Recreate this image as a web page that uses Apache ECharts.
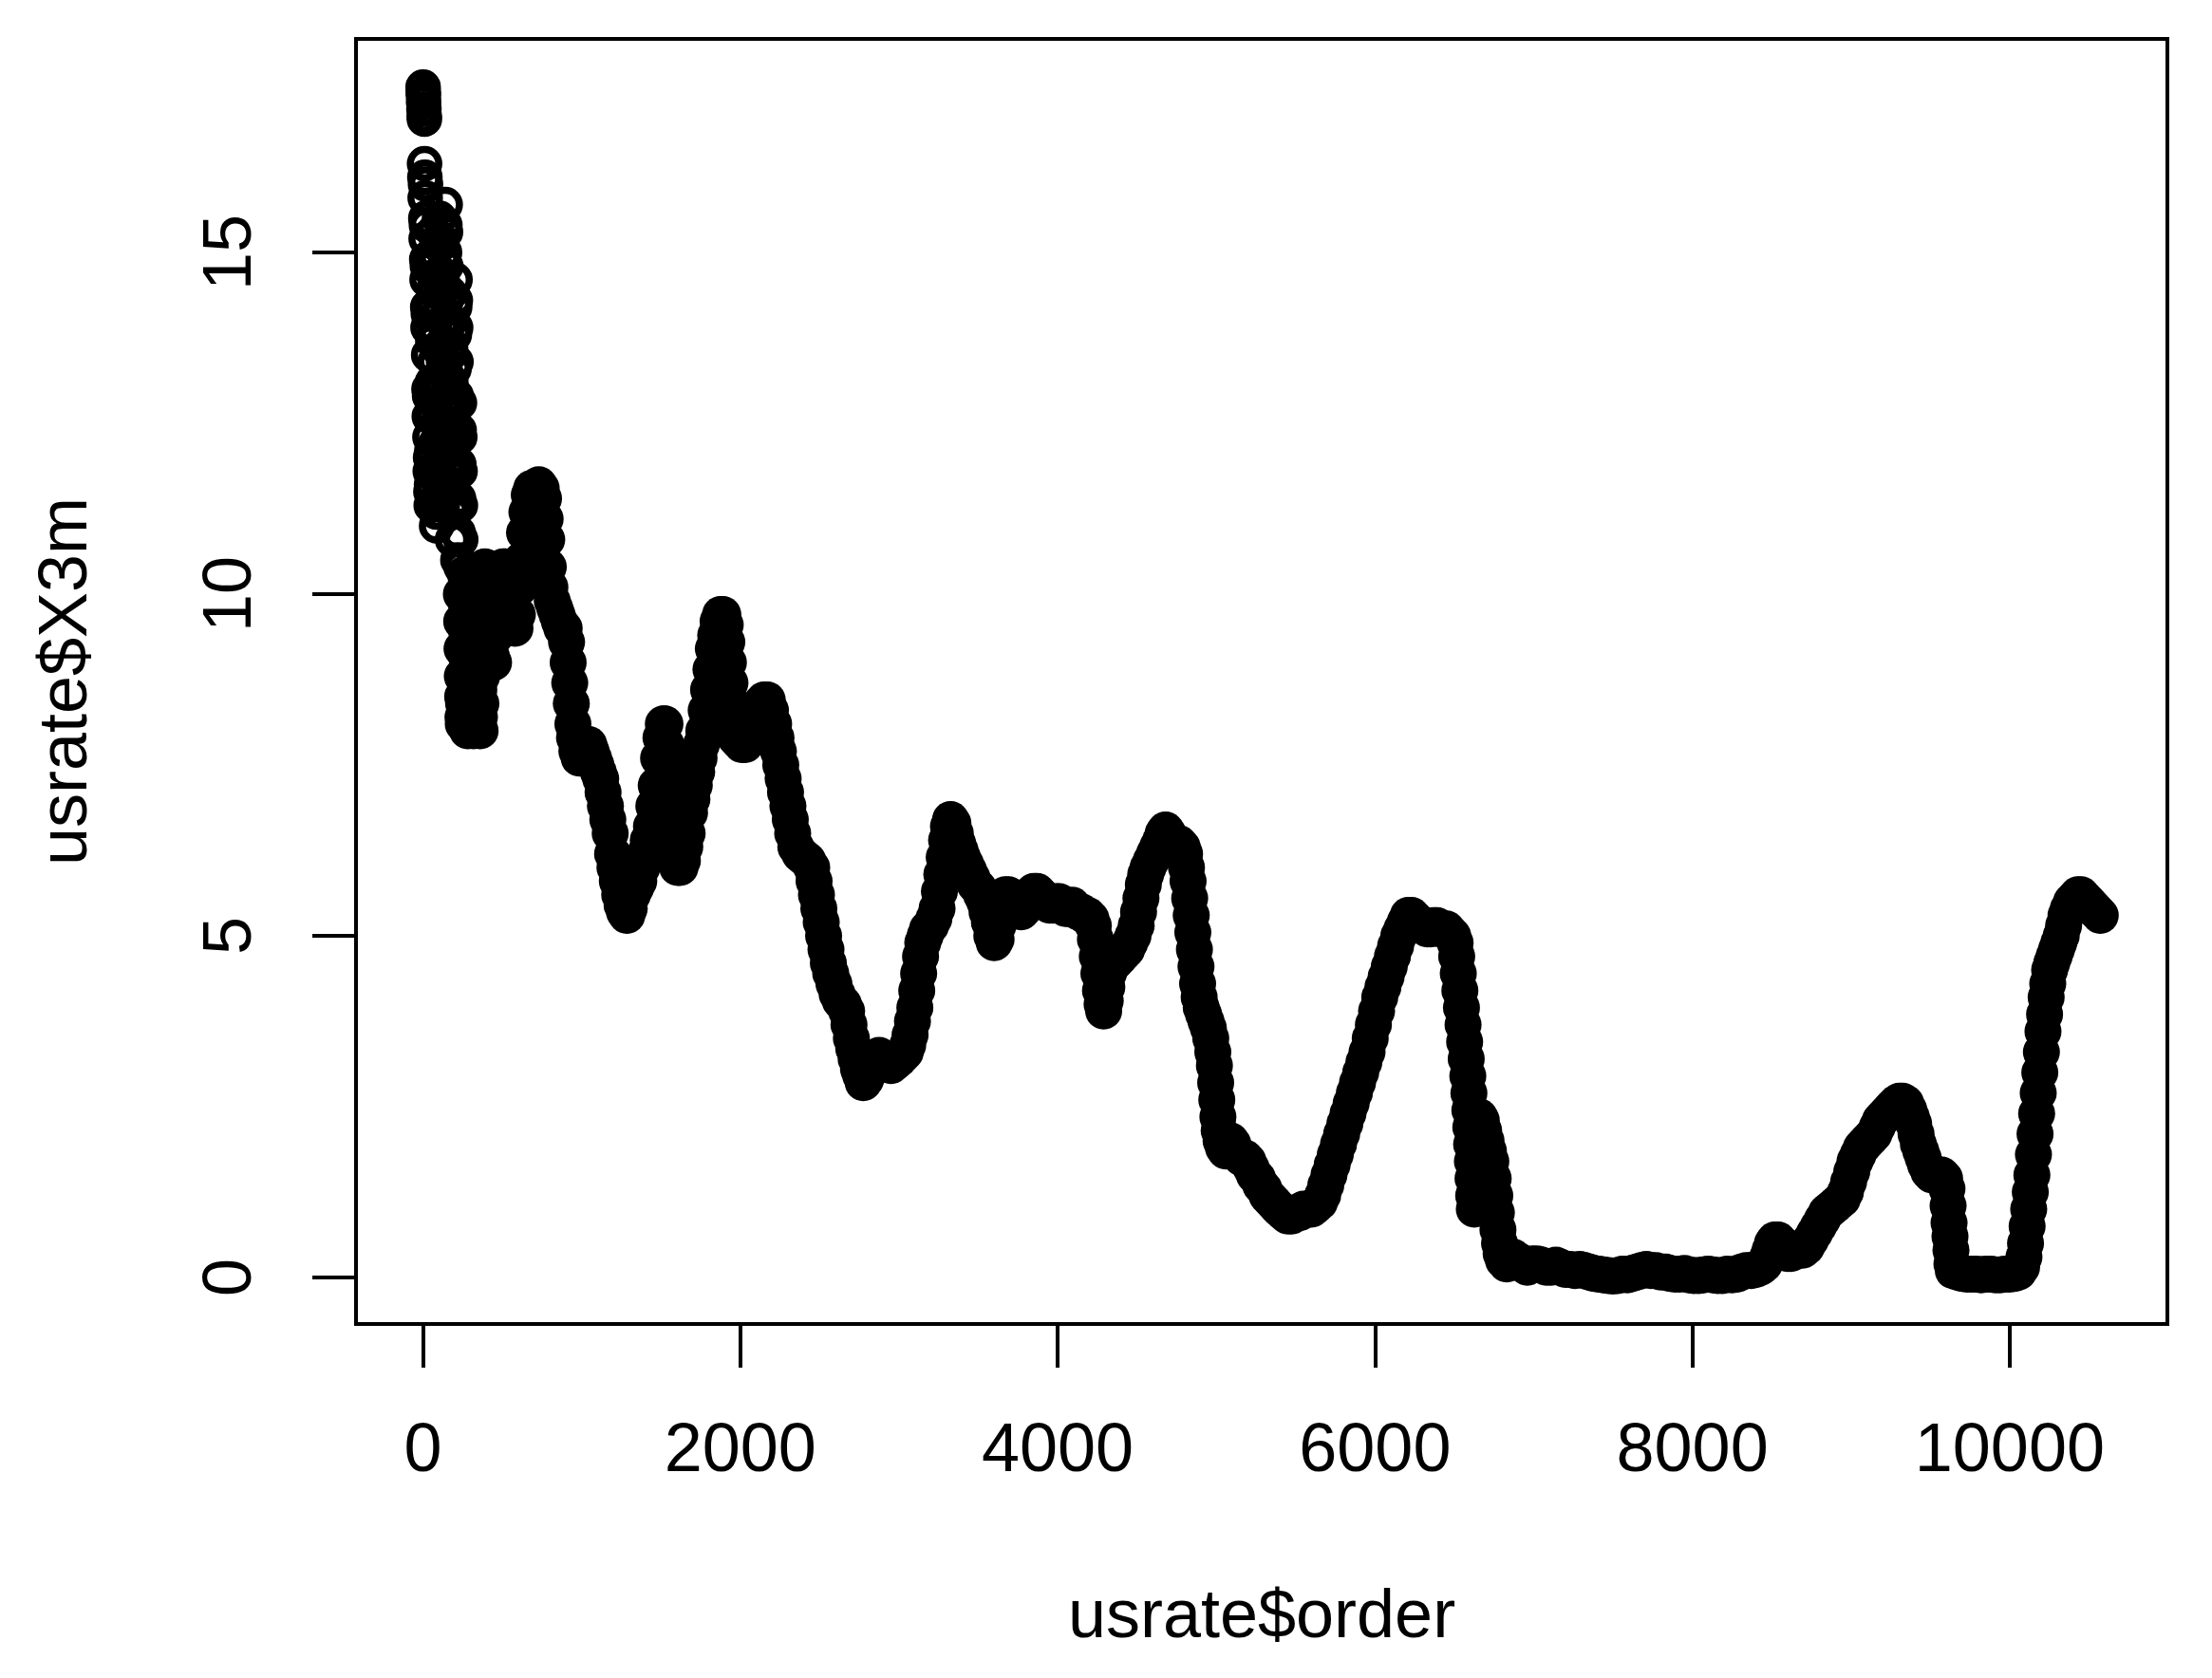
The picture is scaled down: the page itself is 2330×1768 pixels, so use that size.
<!DOCTYPE html>
<html>
<head>
<meta charset="utf-8">
<script src="https://cdn.jsdelivr.net/npm/echarts@6/dist/echarts.min.js"></script>
<style>
html,body{margin:0;padding:0;background:#ffffff;}
#chart{width:2330px;height:1768px;}
</style>
</head>
<body>
<div id="chart"></div>
<script>
// x values (usrate$order)
const order = [
1,2,3,4,6,8,9,10,12,14,
16,18,20,22,24,26,28,30,32,34,
36,38,40,42,44,46,48,50,52,54,
56,58,60,62,64,66,68,70,72,74,
76,78,80,82,84,86,88,90,92,94,
96,98,100,102,104,106,108,110,112,114,
116,118,120,122,124,126,128,130,132,134,
136,138,140,142,144,146,148,150,152,154,
156,158,160,162,164,166,168,170,172,174,
176,178,180,182,184,186,188,190,192,194,
196,198,200,202,204,206,208,210,212,214,
216,218,220,222,224,226,228,230,232,234,
236,238,240,242,244,246,248,250,252,254,
256,258,260,262,264,266,268,270,273,276,
279,282,285,288,291,294,297,300,303,306,
309,312,315,318,321,324,327,330,333,336,
340,344,348,352,356,360,365,370,375,380,
385,390,395,
400,415,430,445,460,475,490,505,520,535,
550,565,580,595,610,625,640,655,670,685,
700,715,730,745,760,770,780,790,800,815,
830,845,860,875,890,905,915,925,935,945,
955,970,985,1000,1015,1030,1045,1060,1075,1090,
1105,1120,1135,1150,1165,1180,1195,1210,1225,1240,
1255,1270,1285,
1300,1320,1340,1360,1380,1400,1420,1440,1455,1470,
1485,1500,1515,1525,1532,1538,1544,1550,1560,1575,
1590,1605,1620,1635,1650,1665,1680,1695,1710,1725,
1740,1755,1770,1785,1800,1815,1830,1845,1860,1875,
1890,1905,1915,1925,1935,1945,1955,1970,1990,2010,
2030,2050,2070,2090,2110,2130,2150,2170,2190,2210,
2225,2240,2255,2270,2285,2300,2315,2330,2350,2375,
2400,2425,2450,2465,2480,2495,2510,2525,2540,2555,
2570,2590,2610,2630,2650,2670,2685,2700,2715,2730,
2745,2760,2775,2790,2810,2830,2850,2875,2900,2925,
2950,2975,3000,3020,3040,3055,3070,3085,3100,3112,
3124,3136,3150,3165,3180,3200,3220,3240,3255,3270,
3285,3300,3312,3325,3340,
3355,3370,3385,3400,3420,3440,3460,3480,3500,3520,
3540,3555,3570,3585,3600,3612,3624,3636,3650,3670,
3690,3710,3730,3750,3770,3790,3810,3830,3850,3870,
3890,3910,3930,3950,3970,3990,4010,4030,4050,4070,
4090,4110,4130,4150,4170,4190,4210,4225,4238,4250,
4260,4270,4280,4290,4300,4310,4320,
4335,4355,4375,4395,4415,4435,4455,4475,4495,4510,
4525,4540,4555,4570,4590,4610,4630,4650,4665,4680,
4695,4710,4725,4745,4765,4785,4800,4812,4822,4832,
4842,4852,4862,4872,4882,4892,4905,4920,4935,4950,
4965,4978,4988,4996,5003,5010,5018,5030,
5045,5060,5075,5090,5105,5120,5140,5160,5180,5200,
5220,5240,5260,5280,5300,5320,5340,5360,5380,5400,
5425,5450,5475,5500,5525,5550,5575,5600,5625,5650,
5670,5690,5710,5730,5750,5770,5790,5810,5830,5850,
5870,5890,5910,5930,5950,5970,5990,6010,6030,6050,
6070,6090,6110,6130,6150,6170,6190,6210,
6230,6250,6270,6290,6310,6330,6350,6370,6390,6410,
6430,6450,6470,6490,6505,6515,6525,6535,6545,6555,
6565,6575,6585,6592,6598,6604,6609,6614,6618,6622,
6626,6632,6638,6644,6650,6658,6670,6685,6700,6715,
6730,6745,6755,6765,6775,6785,6795,6810,6830,6850,
6870,6900,6930,6960,6990,7020,7050,7080,7110,7140,
7170,7200,7230,7260,7290,7320,7350,7380,7410,7440,
7470,7500,7530,7560,7590,7620,7650,7680,7710,7740,
7770,7800,7830,7860,7890,7920,7950,7980,8010,8040,
8070,8100,8130,8160,8190,8220,8250,8280,8310,8340,
8370,8400,8430,8455,8475,
8490,8505,8520,8540,8560,8580,8600,8620,8645,8670,
8695,8720,8745,8770,8795,8820,8845,8870,8895,8920,
8945,8965,8985,9005,9025,9045,9065,9085,9105,9125,
9145,9165,9185,9205,9225,9245,9265,9285,9305,9325,
9345,9365,9380,9395,9410,9425,9440,9455,9470,9490,
9510,9530,9550,9570,9590,9605,9612,9618,9624,9630,
9636,9645,
9670,9700,9730,9760,9790,9820,9850,9880,9910,9940,
9970,10000,10030,10055,10075,10090,10100,10110,10120,10130,
10140,10150,10160,10170,10180,10190,10200,10210,10220,10230,
10240,10252,10265,10280,10295,10310,10325,10340,10355,10370,
10390,10410,10430,10450,10470,10490,10510,10530,10550,10571
];

// y values (usrate$X3m), same layout as order
const x3m = [
17.42,17.35,17.3,17.2,17.1,17.0,16.95,16.3,16.1,15.8,
16.0,15.5,15.2,15.4,14.9,14.6,14.8,14.2,13.9,14.1,
13.5,13.0,12.6,12.9,12.3,11.8,12.0,11.5,11.3,11.6,
12.1,12.6,13.1,13.7,14.2,14.8,15.3,15.0,14.5,13.9,
13.4,12.8,12.2,11.7,11.2,11.0,11.4,11.9,12.5,13.0,
13.6,14.1,14.6,15.1,15.5,15.2,14.7,14.2,13.6,13.1,
12.5,12.0,11.6,11.3,11.7,12.2,12.8,13.4,14.0,14.5,
15.0,15.4,15.7,15.3,14.8,14.3,13.8,13.2,12.7,12.2,
11.8,11.5,11.9,12.4,12.9,13.5,14.0,14.4,14.0,13.6,
13.1,12.6,12.1,11.6,11.2,10.8,11.3,11.8,12.3,12.8,
13.3,13.8,14.2,14.6,14.3,13.9,13.4,12.9,12.4,11.9,
11.4,10.9,10.5,10.9,11.4,11.9,12.4,12.8,12.3,11.8,
11.3,10.8,10.4,10.0,9.6,9.2,8.8,8.5,8.2,8.1,
8.4,8.8,9.2,9.6,10.0,10.3,9.9,9.5,9.1,8.7,
8.3,8.0,8.3,8.7,9.1,9.5,9.9,10.2,9.8,9.3,
8.9,8.5,8.1,8.0,8.4,8.8,9.2,9.6,10.0,10.3,
9.9,9.4,9.0,8.6,8.2,8.0,8.4,8.8,9.3,9.7,
10.1,10.4,10.2,
9.8,9.4,9.1,9.0,9.4,9.8,10.2,10.4,10.4,10.3,
10.0,9.6,9.5,9.7,10.1,10.5,10.9,11.2,11.45,11.55,
11.5,11.55,11.6,11.55,11.4,11.1,10.8,10.4,10.1,9.9,
9.8,9.7,9.6,9.5,9.5,9.3,9.0,8.7,8.4,8.1,
7.9,7.7,7.6,7.6,7.7,7.8,7.8,7.7,7.6,7.5,
7.4,7.3,7.1,6.9,6.7,6.5,6.2,6.0,5.8,5.6,
5.45,5.35,5.3,
5.4,5.6,5.7,5.8,6.0,6.2,6.4,6.6,6.9,7.2,
7.6,7.9,8.1,8.1,7.8,7.5,7.2,6.9,6.6,6.3,
6.1,6.0,6.0,6.1,6.3,6.5,6.8,7.0,7.2,7.4,
7.6,7.8,8.0,8.3,8.6,8.9,9.2,9.4,9.6,9.7,
9.7,9.55,9.3,9.0,8.7,8.4,8.1,7.9,7.85,7.8,
7.8,7.85,7.95,8.1,8.25,8.4,8.45,8.45,8.3,8.1,
7.9,7.7,7.5,7.3,7.1,6.9,6.7,6.5,6.3,6.2,
6.15,6.1,6.0,5.8,5.6,5.4,5.2,5.0,4.8,4.6,
4.45,4.3,4.15,4.05,4.0,3.9,3.7,3.5,3.35,3.2,
3.05,2.95,2.85,2.9,3.0,3.1,3.2,3.25,3.2,3.15,
3.1,3.15,3.2,3.25,3.3,3.4,3.55,3.75,3.95,4.2,
4.45,4.7,4.9,5.0,5.1,5.15,5.25,5.4,5.65,5.9,
6.15,6.4,6.6,6.7,6.65,
6.5,6.35,6.25,6.15,6.05,5.95,5.85,5.75,5.7,5.6,
5.5,5.35,5.2,5.0,4.9,4.95,5.15,5.35,5.5,5.6,
5.6,5.55,5.5,5.4,5.35,5.4,5.5,5.6,5.65,5.65,
5.6,5.55,5.5,5.45,5.45,5.5,5.5,5.45,5.4,5.4,
5.45,5.4,5.35,5.35,5.3,5.3,5.25,5.15,4.95,4.7,
4.45,4.2,4.0,3.9,4.05,4.25,4.45,
4.55,4.6,4.65,4.7,4.75,4.8,4.9,5.0,5.15,5.35,
5.55,5.75,5.9,6.0,6.1,6.2,6.3,6.4,6.5,6.55,
6.5,6.4,6.35,6.35,6.35,6.3,6.2,6.0,5.8,5.55,
5.3,5.05,4.8,4.55,4.3,4.1,3.95,3.85,3.75,3.65,
3.5,3.3,3.1,2.85,2.6,2.35,2.15,2.0,
1.9,1.85,1.95,2.0,1.95,1.85,1.8,1.75,1.75,1.7,
1.6,1.5,1.45,1.35,1.3,1.2,1.15,1.1,1.05,1.0,
0.95,0.9,0.9,0.95,0.95,1.0,1.0,1.0,1.05,1.1,
1.2,1.35,1.5,1.65,1.8,1.95,2.1,2.25,2.4,2.55,
2.7,2.85,3.0,3.15,3.3,3.5,3.7,3.9,4.1,4.25,
4.4,4.55,4.7,4.85,5.0,5.1,5.2,5.3,
5.3,5.25,5.2,5.15,5.15,5.1,5.1,5.15,5.15,5.1,
5.1,5.1,5.05,5.0,4.9,4.7,4.45,4.2,3.95,3.7,
3.45,3.2,2.95,2.7,2.45,2.2,1.95,1.7,1.45,1.2,
1.0,1.25,1.55,1.85,2.1,2.35,2.3,2.15,2.0,1.85,
1.7,1.45,1.2,0.95,0.7,0.5,0.35,0.25,0.2,0.3,
0.3,0.25,0.2,0.15,0.2,0.2,0.18,0.15,0.15,0.18,
0.15,0.12,0.12,0.1,0.12,0.1,0.08,0.06,0.05,0.04,
0.03,0.02,0.03,0.05,0.04,0.06,0.08,0.1,0.12,0.1,
0.1,0.08,0.08,0.06,0.05,0.05,0.06,0.04,0.03,0.03,
0.04,0.05,0.04,0.03,0.03,0.05,0.04,0.05,0.08,0.1,
0.1,0.12,0.15,0.2,0.3,
0.4,0.5,0.55,0.55,0.5,0.4,0.35,0.35,0.4,0.4,
0.4,0.45,0.55,0.65,0.75,0.85,0.95,1.0,1.05,1.1,
1.15,1.25,1.4,1.55,1.7,1.8,1.9,1.95,2.0,2.05,
2.1,2.2,2.3,2.35,2.4,2.45,2.5,2.55,2.58,2.58,
2.55,2.45,2.35,2.25,2.1,1.95,1.85,1.75,1.65,1.55,
1.5,1.5,1.5,1.5,1.45,1.3,1.05,0.8,0.6,0.4,
0.2,0.1,
0.08,0.06,0.05,0.05,0.05,0.04,0.05,0.05,0.04,0.04,
0.05,0.05,0.06,0.08,0.15,0.3,0.5,0.75,1.0,1.25,
1.5,1.8,2.1,2.4,2.7,3.0,3.3,3.6,3.85,4.1,
4.3,4.5,4.6,4.7,4.8,4.9,5.0,5.15,5.3,5.4,
5.5,5.55,5.6,5.6,5.55,5.5,5.45,5.4,5.35,5.3
];

const xTicks = [0, 2000, 4000, 6000, 8000, 10000];
const yTicks = [0, 5, 10, 15];
const xTitle = 'usrate$order';
const yTitle = 'usrate$X3m';

const points = order.map(function (o, i) { return [o, x3m[i]]; });
// the sparse, fast-moving start shows individual open rings
const RING_LIMIT = 240;
const ringPoints = points.filter(function (p) { return p[0] <= RING_LIMIT; });
const densePoints = points.filter(function (p) { return p[0] > RING_LIMIT; });

const FONT = 'Liberation Sans, Arial, Helvetica, sans-serif';
const plain = function (v) { return String(v); };
const chart = echarts.init(document.getElementById('chart'), null, { renderer: 'canvas' });
chart.setOption({
  animation: false,
  backgroundColor: '#ffffff',
  grid: {
    left: 375, right: 47, top: 41, bottom: 373,
    show: true, borderColor: '#000000', borderWidth: 4, backgroundColor: 'transparent'
  },
  xAxis: {
    type: 'value', min: -422, max: 10994,
    axisLine: { show: false, onZero: false },
    splitLine: { show: false },
    axisTick: { show: true, customValues: xTicks, length: 46, lineStyle: { color: '#000000', width: 4 } },
    axisLabel: { customValues: xTicks, formatter: plain, margin: 99, fontSize: 72, fontFamily: FONT, color: '#000000' },
    name: xTitle, nameLocation: 'middle', nameGap: 274,
    nameTextStyle: { fontSize: 72, fontFamily: FONT, color: '#000000' }
  },
  yAxis: {
    type: 'value', min: -0.68, max: 18.125,
    axisLine: { show: false, onZero: false },
    splitLine: { show: false },
    axisTick: { show: true, customValues: yTicks, length: 46, lineStyle: { color: '#000000', width: 4 } },
    axisLabel: { customValues: yTicks, formatter: plain, rotate: 90, margin: 95, fontSize: 72, fontFamily: FONT, color: '#000000' },
    name: yTitle, nameLocation: 'middle', nameGap: 268, nameRotate: 90,
    nameTextStyle: { fontSize: 72, fontFamily: FONT, color: '#000000' }
  },
  series: [{
    type: 'scatter',
    data: densePoints,
    symbol: 'circle',
    symbolSize: 39,
    itemStyle: { color: '#000000', opacity: 1 },
    silent: true
  }, {
    type: 'scatter',
    data: ringPoints,
    symbol: 'circle',
    symbolSize: 30,
    itemStyle: { color: 'rgba(0,0,0,0)', borderColor: '#000000', borderWidth: 7.5, opacity: 1 },
    silent: true
  }]
});
</script>
</body>
</html>
